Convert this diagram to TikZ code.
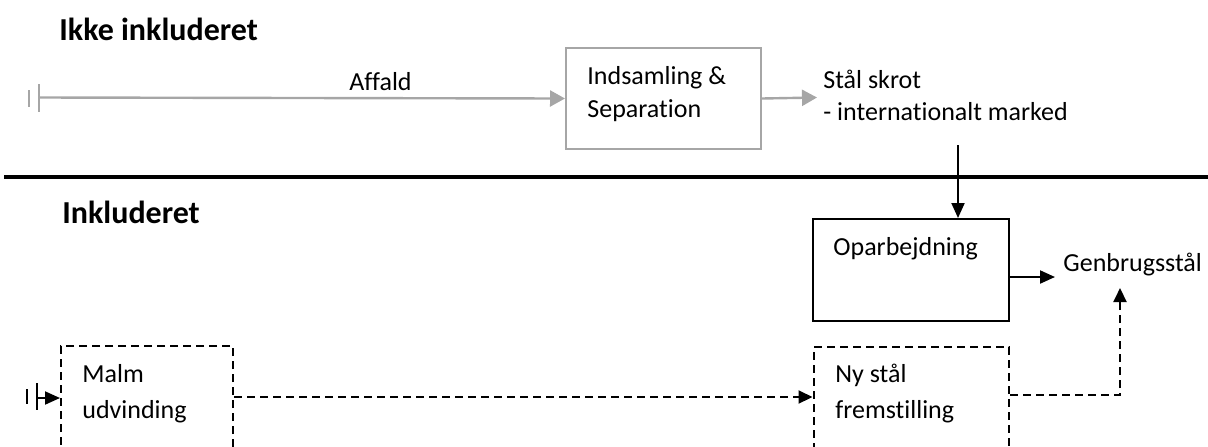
\documentclass[tikz,border=0pt]{standalone}
\usepackage{fontspec}
\setmainfont{Carlito}[Ligatures={NoCommon}]
\usetikzlibrary{arrows.meta}
\definecolor{lgray}{HTML}{A6A6A6}
\tikzset{
  txt/.style={anchor=base west, inner sep=0pt, font=\fontsize{13}{15}\selectfont},
  head/.style={anchor=base west, inner sep=0pt, font=\fontsize{16}{19}\selectfont\bfseries},
  boxs/.style={draw, anchor=north west, inner sep=0pt, line width=1pt},
  grayline/.style={draw=lgray, line width=1.2pt},
  garrow/.style={grayline, -{Triangle[length=7.5pt,width=8pt]}, color=lgray},
  barrow/.style={line width=1pt, -{Triangle[length=7.5pt,width=6.5pt]}},
  dashln/.style={line width=1pt, dash pattern=on 4pt off 2.5pt},
  dbarrow/.style={dashln, -{Triangle[length=7pt,width=6.5pt]}},
}
\begin{document}
\begin{tikzpicture}[x=0.5pt, y=-0.5pt]
\useasboundingbox (0,0) rectangle (1208,446);
\clip (0,0) rectangle (1208,446);

% headings
\node[head] (h1) at (59,40) {Ikke inkluderet};
\node[head] (h2) at (62,223) {Inkluderet};

% separator
\draw[line width=2pt] (4,177) coordinate (sepL) -- (1208,177) coordinate (sepR);

% boxes
\node[boxs, draw=lgray, minimum width=97.5pt, minimum height=50.5pt] (ind) at (565,47) {};
\node[boxs, minimum width=98pt, minimum height=51pt] (opa) at (811.5,218) {};
\node[boxs, dashln, minimum width=86pt, minimum height=75pt] (malm) at (60,345) {};
\node[boxs, dashln, minimum width=97.75pt, minimum height=75pt] (ny) at (812.5,346) {};

% texts
\node[txt] (taff) at (349,90) {Affald};
\node[txt] (tind1) at (587,84) {Indsamling \&};
\node[txt] (tind2) at (587,117) {Separation};
\node[txt] (tsk1) at (823,88) {Stål skrot};
\node[txt] (tsk2) at (823,120) {- internationalt marked};
\node[txt] (topa) at (833,255) {Oparbejdning};
\node[txt] (tgen) at (1063,271) {Genbrugsstål};
\node[txt] (tny1) at (835,382) {Ny stål};
\node[txt] (tny2) at (835,418) {fremstilling};
\node[txt] (tma1) at (82,382) {Malm};
\node[txt] (tma2) at (82,418) {udvinding};

% gray flow
\draw[grayline] (29,90) -- (29,107);
\draw[grayline] (39,84) -- (39,112);
\coordinate (g0) at (39,97.5);
\draw[garrow] (g0) -- (ind.west);
\coordinate (sk) at (817,97.5);
\draw[garrow] (ind.east) -- (sk);

% black arrows
\coordinate (ta) at (958,145);
\draw[barrow] (ta) -- (ta |- opa.north);
\coordinate (ge) at (1055,277);
\draw[barrow] (opa.east |- ge) -- (ge);

% malm start
\draw[line width=1.2pt] (27,389) -- (27,404);
\draw[line width=1.2pt] (37,383) -- (37,410);
\coordinate (m0) at (37,398);
\draw[barrow] (m0) -- (m0 -| malm.west);

% dashed flows
\coordinate (dm) at (500,397);
\draw[dbarrow] (malm.east |- dm) -- (ny.west |- dm);
\coordinate (dn) at (1120,395);
\coordinate (gb) at (1120,288);
\draw[dbarrow] (ny.east |- dn) -- (dn) -- (gb);
\end{tikzpicture}
\end{document}
